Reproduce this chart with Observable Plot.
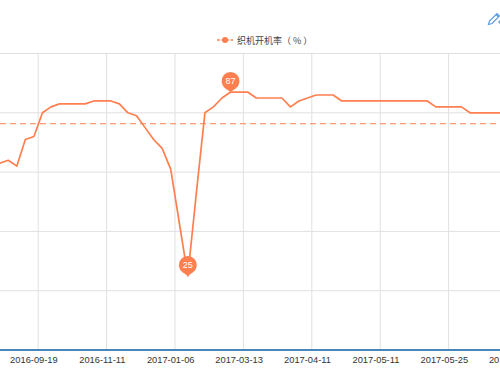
<!DOCTYPE html>
<html><head><meta charset="utf-8">
<script src="https://cdn.jsdelivr.net/npm/d3@7"></script>
<script src="https://cdn.jsdelivr.net/npm/@observablehq/plot@0.6"></script>
<style>
html,body{margin:0;padding:0;background:#fff;overflow:hidden;width:500px;height:375px;}
#top{position:relative;height:45px;width:500px;}
#legend{position:absolute;left:217px;top:33px;height:14px;display:flex;align-items:center;font-family:"Noto Sans CJK SC","Noto Sans",sans-serif;font-size:9px;color:#444;white-space:nowrap;}
#legend svg{margin-right:4px;}
#pencil{position:absolute;left:486px;top:11px;}
#chart svg{display:block;}
</style></head><body>
<div id="top">
  <div id="legend"><svg width="16" height="8"><line x1="0" y1="4" x2="16" y2="4" stroke="#ff7f50" stroke-width="1.5" stroke-dasharray="3,1.5"/><circle cx="8" cy="4" r="3" fill="#ff7f50"/></svg><span id="legendText"></span></div>
  <svg id="pencil" width="16" height="16" viewBox="0 0 16 16"><path d="M2.5 13.5 L3.5 10 L11 2.5 L13.5 5 L6 12.5 Z M10 3.5 L12.5 6" fill="none" stroke="#5b9be0" stroke-width="1.2"/><path d="M12 11 h4 M14 9 v4" stroke="#5b9be0" stroke-width="1.2"/></svg>
</div>
<div id="chart"></div>
<script>
const seriesName = "织机开机率（ % ）";
const startIndex = -4;
const values = [63, 64, 62, 71, 72, 80, 82, 83, 83, 83, 83, 84, 84, 84, 83, 80, 79, 75, 71, 68,
  61, 43, 25, 53, 80, 82, 85, 87, 87, 87, 85, 85, 85, 85, 82, 84, 85, 86, 86, 86,
  84, 84, 84, 84, 84, 84, 84, 84, 84, 84, 84, 82, 82, 82, 82, 80, 80, 80, 80, 80];
const tickLabels = ["2016-09-19", "2016-11-11", "2017-01-06", "2017-03-13", "2017-04-11", "2017-05-11", "2017-05-25", "2017-06-08"];
const tickEvery = 8;
const yTicks = [20, 40, 60, 80, 100];
const avgValue = 76.3;

document.getElementById("legendText").textContent = seriesName;

const data = values.map((v, i) => ({i: startIndex + i, v}));
const ticks = tickLabels.map((label, j) => ({i: j * tickEvery, label}));
let maxD = data[0], minD = data[0];
for (const d of data) { if (d.v > maxD.v) maxD = d; if (d.v < minD.v) minD = d; }
const pins = [maxD, minD];

const pinSymbol = {
  draw(ctx, size) {
    const c = 11, r = 9, a = Math.acos(r / c);
    ctx.moveTo(0, 0);
    ctx.lineTo(-r * Math.sin(a), -c + r * Math.cos(a));
    ctx.arc(0, -c, r, Math.PI / 2 + a, Math.PI / 2 - a + 2 * Math.PI);
    ctx.closePath();
  }
};

const color = "#ff7f50";
const chart = Plot.plot({
  width: 500, height: 330,
  marginTop: 8, marginBottom: 25.5, marginLeft: 0, marginRight: 0,
  x: {type: "linear", domain: [-3.906, 54.57], axis: null},
  y: {domain: [0, 100], axis: null},
  style: {fontFamily: "'Liberation Sans', Arial, sans-serif", background: "#fff"},
  marks: [
    Plot.ruleY(yTicks, {stroke: "#e0e0e0", strokeWidth: 1}),
    Plot.ruleX(ticks, {x: d => d.i + 0.5, stroke: "#e0e0e0", strokeWidth: 1}),
    Plot.ruleY([0], {stroke: "#4a86b8", strokeWidth: 2}),
    Plot.text(ticks, {x: "i", y: 0, text: "label", dy: 10, fontSize: 9.3, fill: "#333"}),
    Plot.ruleY([avgValue], {stroke: color, strokeWidth: 1.2, strokeDasharray: "6,4"}),
    Plot.line(data, {x: "i", y: "v", stroke: color, strokeWidth: 1.7, clip: true}),
    Plot.dot(pins, {x: "i", y: "v", symbol: pinSymbol, fill: color, stroke: "none"}),
    Plot.text(pins, {x: "i", y: "v", text: d => String(d.v), dy: -11, fill: "white", fontSize: 9})
  ]
});
document.getElementById("chart").appendChild(chart);
</script>
</body></html>
